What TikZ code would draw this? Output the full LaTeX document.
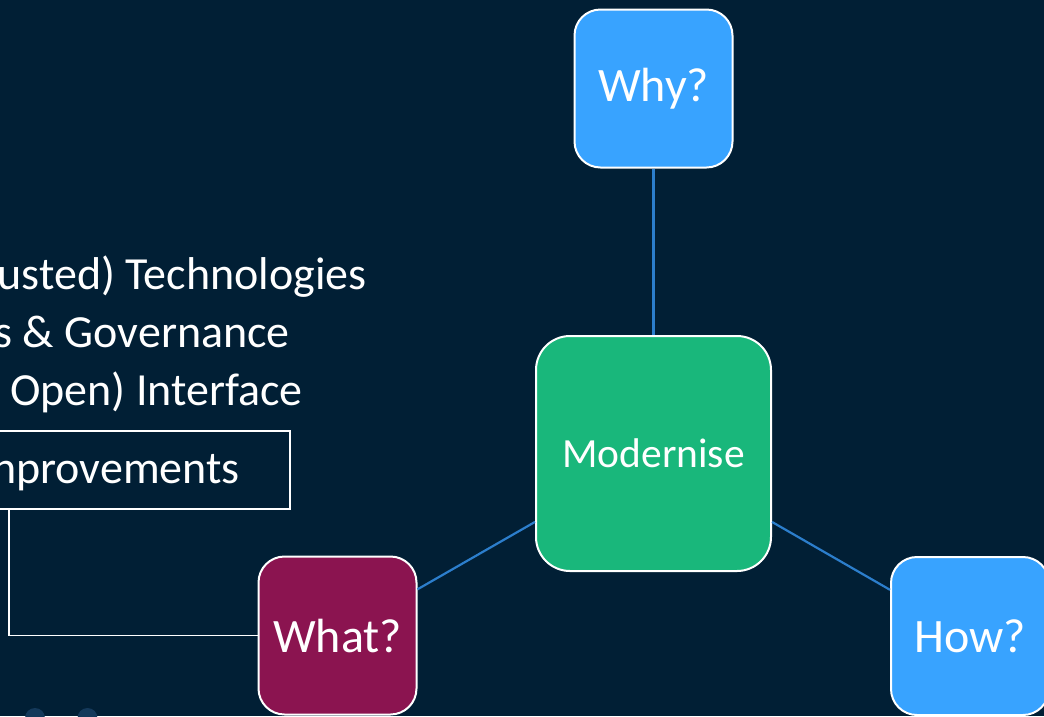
\documentclass[tikz,border=0pt]{standalone}
\usepackage{fontspec}
\setmainfont{Carlito}
\definecolor{bgnavy}{RGB}{1,31,53}
\definecolor{whyblue}{RGB}{56,163,255}
\definecolor{modgreen}{RGB}{25,183,123}
\definecolor{whatred}{RGB}{139,20,80}
\definecolor{linkblue}{RGB}{44,126,204}
\definecolor{dotblue}{RGB}{20,57,90}
\tikzset{
  qbox/.style={draw=white, line width=2pt, rounded corners=26pt, minimum width=158pt, minimum height=158pt, inner sep=0pt, text=white, font=\fontsize{48}{56}\selectfont},
  modbox/.style={qbox, rounded corners=34pt, minimum width=235pt, minimum height=235pt, font=\fontsize{41.5}{48}\selectfont},
  link/.style={linkblue, line width=2.2pt},
  listtext/.style={text=white, font=\fontsize{46}{54}\selectfont, inner sep=0pt},
  frame/.style={draw=white, line width=1.6pt},
}
\begin{document}
\begin{tikzpicture}[x=1pt,y=-1pt]
\useasboundingbox (0,0) rectangle (1044,716);
\fill[bgnavy] (0,0) rectangle (1044,716);
\clip (0,0) rectangle (1044,716);
% decorative dots
\fill[dotblue] (35,718) circle (10);
\fill[dotblue] (87.5,718) circle (10);
% list text
\node[listtext, anchor=base east] (t1) at (367,289) {usted) Technologies};
\node[listtext, anchor=base east] (t2) at (290,347) {s \& Governance};
\node[listtext, anchor=base east] (t3) at (303,405) {Open) Interface};
\node[listtext, anchor=base east] (t4) at (240,483) {nprovements};
\node[frame, inner sep=0pt, minimum width=311pt, minimum height=78pt, anchor=north east] (imp) at (291,430) {};
% nodes
\node[qbox, fill=whyblue] (why) at (653.5,88.5) {Why?};
\node[modbox, fill=modgreen] (mod) at (653.5,453.5) {Modernise};
\node[qbox, fill=whatred] (what) at (337.5,635.5) {What?};
\node[qbox, fill=whyblue] (how) at (970,636) {How?};
% connectors
\draw[link] (why.south) -- (mod.north);
\draw[link] (mod.210) -- (what.30);
\draw[link] (mod.330) -- (how.150);
\coordinate (impfoot) at (9,508);
\draw[white, line width=1.6pt] (impfoot) |- (what.west);
\end{tikzpicture}
\end{document}
